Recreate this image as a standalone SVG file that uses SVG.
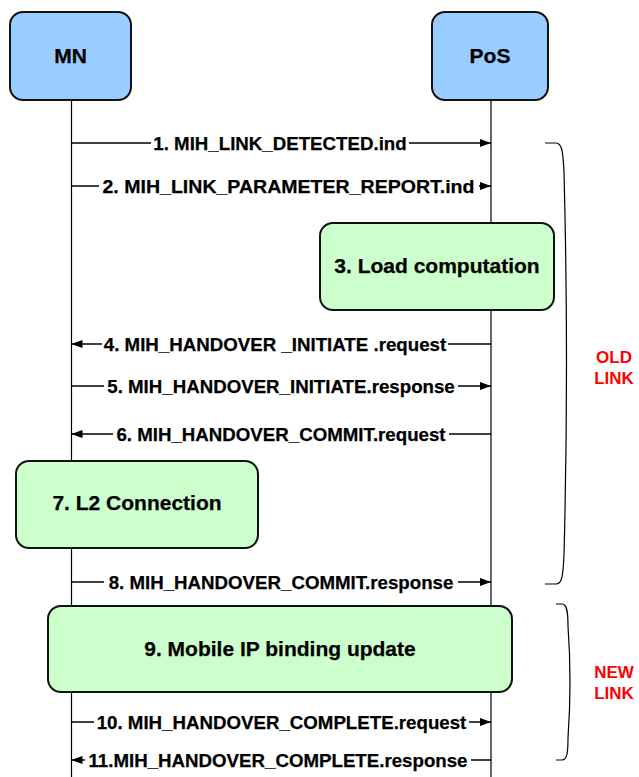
<svg xmlns="http://www.w3.org/2000/svg" width="639" height="777" viewBox="0 0 639 777">
<style>
.life{stroke:#000;stroke-width:1.2;fill:none}
.msg{stroke:#000;stroke-width:1.4;fill:none}
.actor{fill:#99CCFF;stroke:#111;stroke-width:2}
.act{fill:#CCFFCC;stroke:#111;stroke-width:2}
.bg{fill:#fff}
.mt{font-family:"Liberation Sans",Arial,sans-serif;font-weight:bold;font-size:18.7px;fill:#000;stroke:#000;stroke-width:0.25;text-anchor:middle}
.bt{font-family:"Liberation Sans",Arial,sans-serif;font-weight:bold;font-size:21px;fill:#000;stroke:#000;stroke-width:0.25;text-anchor:middle}
.red{font-family:"Liberation Sans",Arial,sans-serif;font-weight:bold;font-size:17px;fill:#FF0000;text-anchor:middle}
.brace{stroke:#000;stroke-width:1.2;fill:none}
</style>
<defs>
<marker id="ah" viewBox="0 0 11 8" refX="11" refY="4" markerWidth="11" markerHeight="8" markerUnits="userSpaceOnUse" orient="auto">
<path d="M0,0 L11,4 L0,8 z" fill="#000"/>
</marker>
</defs>
<rect width="639" height="777" fill="#fff"/>
<g id="lifelines">
<line class="life" x1="71.5" y1="100" x2="71.5" y2="777"/>
<line class="life" x1="491" y1="100" x2="491" y2="777"/>
</g>
<g id="MN"><rect class="actor" x="10" y="12" width="121" height="88" rx="13"/><text class="bt" x="70.5" y="63">MN</text></g>
<g id="PoS"><rect class="actor" x="432" y="12" width="116" height="88" rx="13"/><text class="bt" x="490" y="63">PoS</text></g>
<g id="connectors">
<line class="msg" x1="71.5" y1="143" x2="491" y2="143" marker-end="url(#ah)"/>
<rect class="bg" x="151" y="133" width="258" height="20"/>
<text class="mt" x="280" y="149.5">1. MIH_LINK_DETECTED.ind</text>
<line class="msg" x1="71.5" y1="186" x2="491" y2="186" marker-end="url(#ah)"/>
<rect class="bg" x="99" y="176" width="380" height="20"/>
<text class="mt" x="288.5" y="192.5" textLength="372" lengthAdjust="spacingAndGlyphs">2. MIH_LINK_PARAMETER_REPORT.ind</text>
<line class="msg" x1="491" y1="344" x2="71.5" y2="344" marker-end="url(#ah)"/>
<rect class="bg" x="102" y="334" width="346" height="20"/>
<text class="mt" x="275" y="350.5">4. MIH_HANDOVER _INITIATE .request</text>
<line class="msg" x1="71.5" y1="386" x2="491" y2="386" marker-end="url(#ah)"/>
<rect class="bg" x="104" y="376" width="354" height="20"/>
<text class="mt" x="281" y="392.5">5. MIH_HANDOVER_INITIATE.response</text>
<line class="msg" x1="491" y1="434" x2="71.5" y2="434" marker-end="url(#ah)"/>
<rect class="bg" x="113" y="424" width="336" height="20"/>
<text class="mt" x="281" y="440.5">6. MIH_HANDOVER_COMMIT.request</text>
<line class="msg" x1="71.5" y1="582" x2="491" y2="582" marker-end="url(#ah)"/>
<rect class="bg" x="104" y="572" width="354" height="20"/>
<text class="mt" x="281" y="588.5">8. MIH_HANDOVER_COMMIT.response</text>
<line class="msg" x1="71.5" y1="722" x2="491" y2="722" marker-end="url(#ah)"/>
<rect class="bg" x="94" y="712" width="375" height="20"/>
<text class="mt" x="281.5" y="728.5">10. MIH_HANDOVER_COMPLETE.request</text>
<line class="msg" x1="491" y1="760" x2="71.5" y2="760" marker-end="url(#ah)"/>
<rect class="bg" x="85" y="750" width="386" height="20"/>
<text class="mt" x="278" y="766.5">11.MIH_HANDOVER_COMPLETE.response</text>
</g>
<g id="load"><rect class="act" x="320" y="223" width="234" height="87" rx="13"/><text class="bt" x="437" y="273">3. Load computation</text></g>
<g id="l2"><rect class="act" x="16" y="461" width="242" height="87" rx="13"/><text class="bt" x="137" y="510">7. L2 Connection</text></g>
<g id="mip"><rect class="act" x="48" y="606" width="464" height="86" rx="13"/><text class="bt" x="280" y="656">9. Mobile IP binding update</text></g>
<g id="oldlink">
<path class="brace" d="M545,143 H556 C562,143 563,152 564,172 Q569,363 564,555 C563,576 562,584 556,584 H545"/>
<text class="red" x="614" y="363">OLD</text>
<text class="red" x="614" y="384">LINK</text>
</g>
<g id="newlink">
<path class="brace" d="M556,604 H562 C567,604 568,612 568,626 Q572,682 568,738 C568,753 567,760 562,760 H556"/>
<text class="red" x="614" y="678">NEW</text>
<text class="red" x="614" y="699">LINK</text>
</g>
</svg>
